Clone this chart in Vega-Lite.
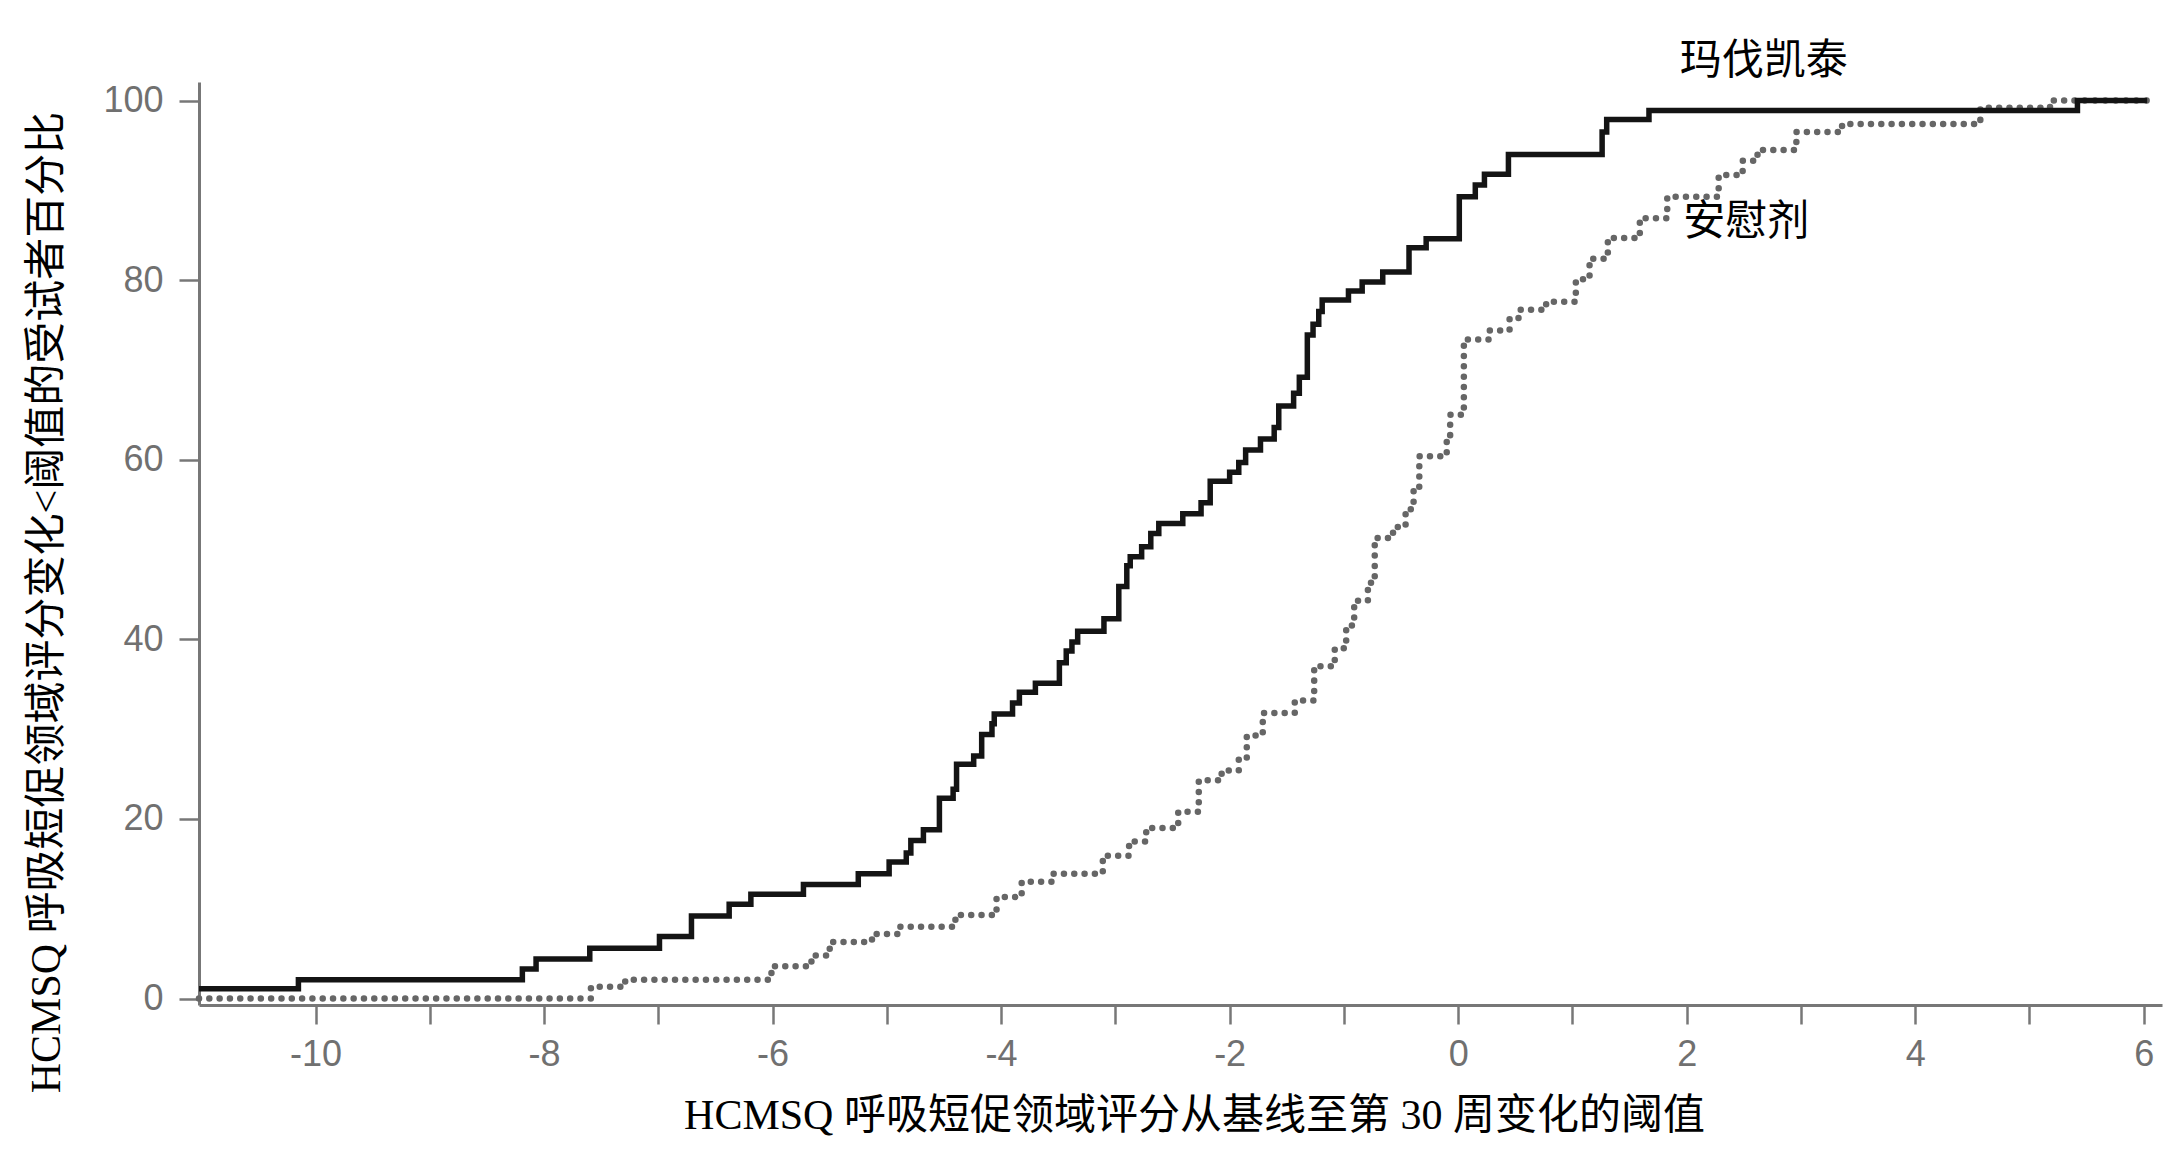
{
  "$schema": "https://vega.github.io/schema/vega-lite/v6.json",
  "autosize": {"type": "none"},
  "width": 1963,
  "height": 923,
  "padding": {"left": 199, "top": 82, "right": 22, "bottom": 151},
  "background": "white",
  "config": {
    "view": {"stroke": null},
    "axis": {
      "grid": false,
      "domainColor": "#777777",
      "domainWidth": 3,
      "tickColor": "#777777",
      "tickWidth": 2.5,
      "labelColor": "#707070",
      "labelFont": "Liberation Sans",
      "labelFontSize": 36,
      "titleFont": "Liberation Serif, Noto Sans CJK SC",
      "titleFontSize": 42,
      "titleFontWeight": "normal",
      "titleColor": "#000000"
    }
  },
  "datasets": {
    "mav": [
      {"x": -11.02, "y": 1.1}, {"x": -10.15, "y": 2.1}, {"x": -8.19, "y": 3.3}, {"x": -8.07, "y": 4.4},
      {"x": -7.6, "y": 5.6}, {"x": -6.99, "y": 6.9}, {"x": -6.71, "y": 9.2}, {"x": -6.38, "y": 10.5},
      {"x": -6.19, "y": 11.6}, {"x": -5.73, "y": 12.7}, {"x": -5.25, "y": 13.9}, {"x": -4.98, "y": 15.2},
      {"x": -4.83, "y": 16.2}, {"x": -4.79, "y": 17.6}, {"x": -4.68, "y": 18.8}, {"x": -4.54, "y": 22.3},
      {"x": -4.42, "y": 23.3}, {"x": -4.39, "y": 26.1}, {"x": -4.24, "y": 27.0}, {"x": -4.17, "y": 29.4},
      {"x": -4.08, "y": 30.6}, {"x": -4.06, "y": 31.7}, {"x": -3.9, "y": 32.9}, {"x": -3.84, "y": 34.1},
      {"x": -3.7, "y": 35.1}, {"x": -3.49, "y": 37.4}, {"x": -3.43, "y": 38.7}, {"x": -3.38, "y": 39.7},
      {"x": -3.33, "y": 40.9}, {"x": -3.1, "y": 42.3}, {"x": -2.97, "y": 45.9}, {"x": -2.9, "y": 48.2},
      {"x": -2.87, "y": 49.2}, {"x": -2.77, "y": 50.3}, {"x": -2.69, "y": 51.8}, {"x": -2.62, "y": 52.9},
      {"x": -2.41, "y": 54.0}, {"x": -2.25, "y": 55.2}, {"x": -2.17, "y": 57.6}, {"x": -2.0, "y": 58.6},
      {"x": -1.92, "y": 59.7}, {"x": -1.86, "y": 61.1}, {"x": -1.73, "y": 62.3}, {"x": -1.61, "y": 63.6},
      {"x": -1.57, "y": 66.0}, {"x": -1.44, "y": 67.4}, {"x": -1.39, "y": 69.2}, {"x": -1.32, "y": 73.9},
      {"x": -1.27, "y": 75.1}, {"x": -1.22, "y": 76.5}, {"x": -1.19, "y": 77.8}, {"x": -0.96, "y": 78.8},
      {"x": -0.84, "y": 79.8}, {"x": -0.66, "y": 80.9}, {"x": -0.43, "y": 83.6}, {"x": -0.28, "y": 84.6},
      {"x": 0.01, "y": 89.3}, {"x": 0.15, "y": 90.6}, {"x": 0.23, "y": 91.8}, {"x": 0.44, "y": 94.0},
      {"x": 1.26, "y": 96.5}, {"x": 1.3, "y": 97.9}, {"x": 1.67, "y": 98.9}, {"x": 5.42, "y": 100},
      {"x": 6.03, "y": 100}
    ],
    "pbo": [
      {"x": -11.02, "y": 0}, {"x": -7.59, "y": 1.3}, {"x": -7.29, "y": 2.1}, {"x": -6.01, "y": 3.6},
      {"x": -5.66, "y": 4.8}, {"x": -5.5, "y": 6.3}, {"x": -5.13, "y": 7.2}, {"x": -4.89, "y": 8.0},
      {"x": -4.4, "y": 9.3}, {"x": -4.04, "y": 11.3}, {"x": -3.82, "y": 13.0}, {"x": -3.54, "y": 13.9},
      {"x": -3.11, "y": 15.9}, {"x": -2.88, "y": 17.5}, {"x": -2.73, "y": 19.0}, {"x": -2.45, "y": 20.8},
      {"x": -2.27, "y": 24.3}, {"x": -2.07, "y": 25.4}, {"x": -1.92, "y": 26.7}, {"x": -1.85, "y": 29.3},
      {"x": -1.71, "y": 31.8}, {"x": -1.43, "y": 33.2}, {"x": -1.26, "y": 37.0}, {"x": -1.08, "y": 39.0},
      {"x": -0.98, "y": 41.4}, {"x": -0.93, "y": 42.0}, {"x": -0.91, "y": 44.3}, {"x": -0.79, "y": 46.3},
      {"x": -0.73, "y": 51.3}, {"x": -0.57, "y": 52.5}, {"x": -0.46, "y": 54.5}, {"x": -0.39, "y": 57.0},
      {"x": -0.34, "y": 60.4}, {"x": -0.1, "y": 62.6}, {"x": -0.07, "y": 65.0}, {"x": 0.05, "y": 73.4},
      {"x": 0.27, "y": 74.4}, {"x": 0.45, "y": 75.8}, {"x": 0.54, "y": 76.7}, {"x": 0.77, "y": 77.6},
      {"x": 1.03, "y": 80.1}, {"x": 1.15, "y": 82.4}, {"x": 1.31, "y": 84.7}, {"x": 1.59, "y": 86.9},
      {"x": 1.83, "y": 89.3}, {"x": 2.28, "y": 91.7}, {"x": 2.49, "y": 93.3}, {"x": 2.62, "y": 94.5},
      {"x": 2.96, "y": 96.5}, {"x": 3.36, "y": 97.4}, {"x": 4.57, "y": 99.2}, {"x": 5.18, "y": 100},
      {"x": 6.06, "y": 100}
    ],
    "labels": [
      {"x": 1.94, "y": 104.4, "t": "玛伐凯泰"},
      {"x": 1.97, "y": 86.5, "t": "安慰剂"}
    ]
  },
  "encoding": {
    "x": {
      "field": "x", "type": "quantitative",
      "scale": {"domain": [-11.02, 6.16], "nice": false, "zero": false},
      "axis": {
        "title": "HCMSQ 呼吸短促领域评分从基线至第 30 周变化的阈值",
        "values": [-10, -9, -8, -7, -6, -5, -4, -3, -2, -1, 0, 1, 2, 3, 4, 5, 6],
        "labelExpr": "datum.value % 2 === 0 ? '' + datum.value : ''",
        "labelFlush": false,
        "tickSize": 19,
        "labelPadding": 13,
        "titleX": 995,
        "titleY": 110,
        "titleAlign": "center",
        "titleBaseline": "middle"
      }
    },
    "y": {
      "field": "y", "type": "quantitative",
      "scale": {"domain": [-0.72, 102.07], "nice": false, "zero": false},
      "axis": {
        "title": "HCMSQ 呼吸短促领域评分变化<阈值的受试者百分比",
        "values": [0, 20, 40, 60, 80, 100],
        "labelExpr": "'' + datum.value",
        "tickSize": 20,
        "labelPadding": 16,
        "titleAngle": 270,
        "titleX": -153,
        "titleY": 520,
        "titleAlign": "center",
        "titleBaseline": "middle"
      }
    }
  },
  "layer": [
    {
      "data": {"name": "pbo"},
      "mark": {"type": "line", "interpolate": "step-after", "color": "#666666", "strokeWidth": 6.5, "strokeCap": "round", "strokeDash": [0.01, 10.3]}
    },
    {
      "data": {"name": "mav"},
      "mark": {"type": "line", "interpolate": "step-after", "color": "#141414", "strokeWidth": 5.5}
    },
    {
      "data": {"name": "labels"},
      "mark": {"type": "text", "align": "left", "baseline": "middle", "fontSize": 42, "font": "Liberation Serif, Noto Sans CJK SC", "color": "#000000"},
      "encoding": {"text": {"field": "t", "type": "nominal"}}
    }
  ]
}
